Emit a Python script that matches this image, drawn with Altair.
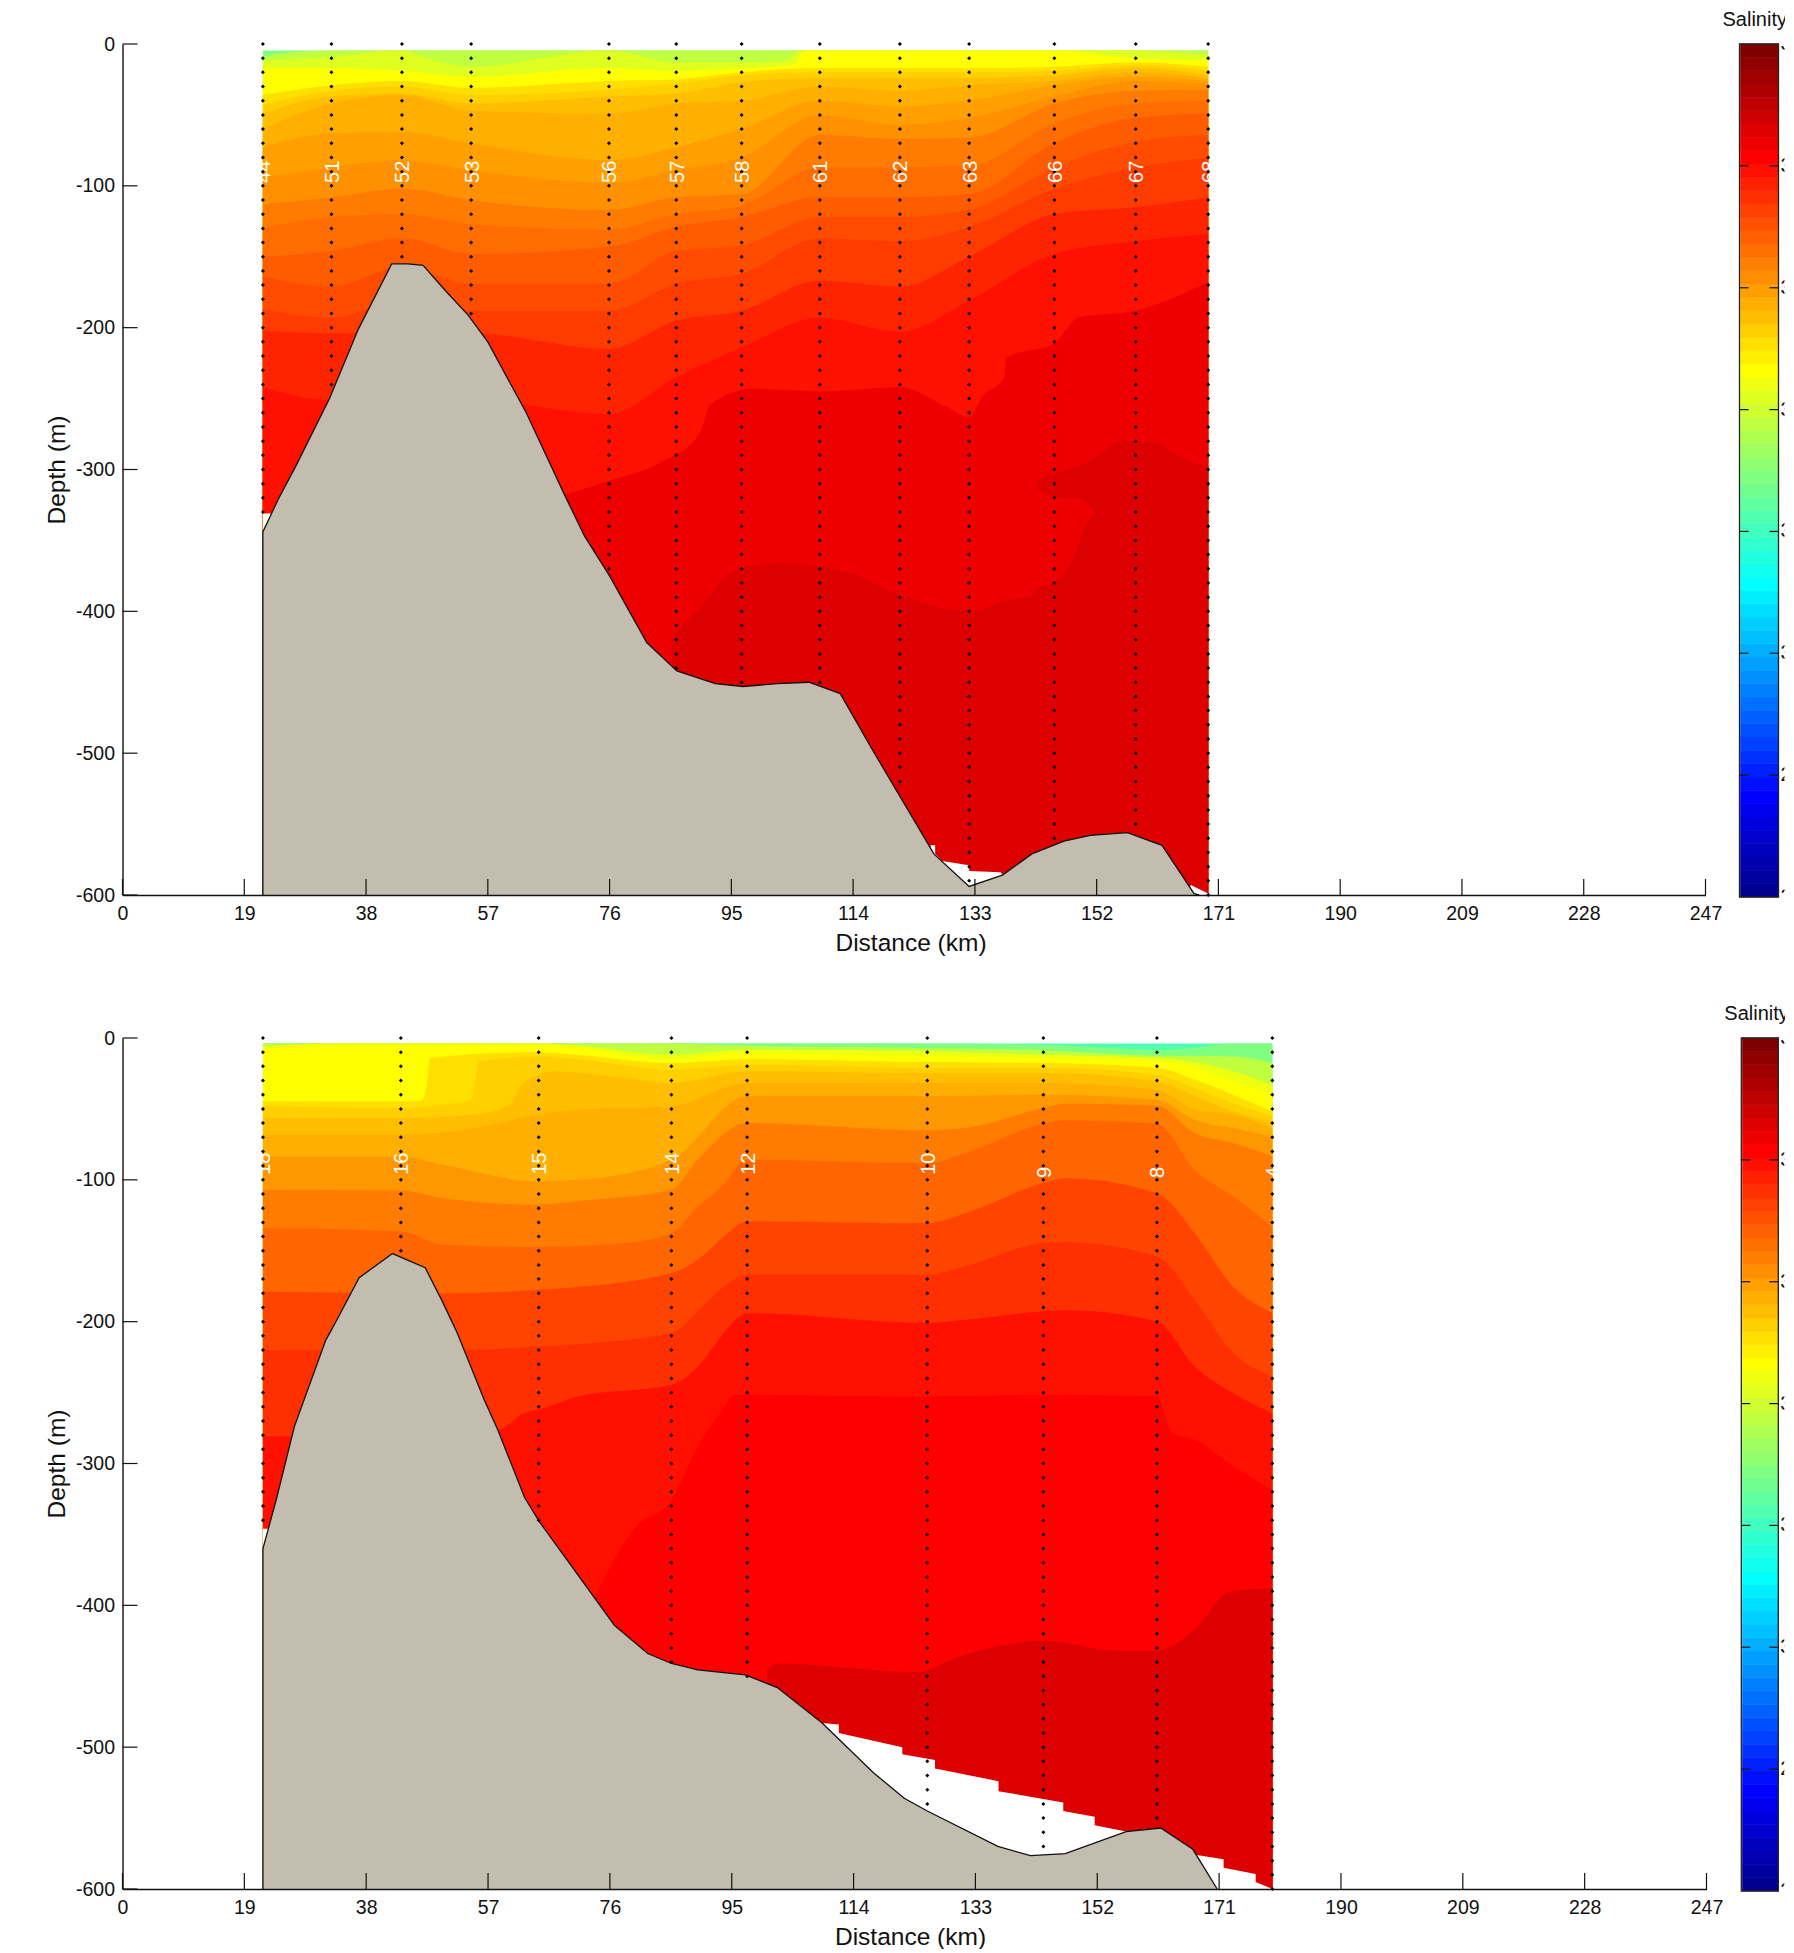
import altair as alt
import pandas as pd

FONT = "Liberation Sans"
X_TICKS = [0, 19, 38, 57, 76, 95, 114, 133, 152, 171, 190, 209, 228, 247]
Y_TICKS = [0, -100, -200, -300, -400, -500, -600]
LEVELS = [0, 10, 20, 30, 40, 50, 60, 70, 80, 90, 100, 110, 120, 130, 140, 150, 160, 170, 180, 190,
          200, 210, 220, 230, 240, 250, 260, 270, 280, 290, 300, 310, 320, 330, 340, 350, 360, 370, 380, 390,
          400, 410, 420, 430, 440, 450, 460, 470, 480, 490, 500, 510, 520, 530, 540, 550, 560, 570, 580, 590, 600]

JET = ["#00008F", "#00009F", "#0000AF", "#0000BF", "#0000CF", "#0000DF", "#0000EF", "#0000FF",
       "#0010FF", "#0020FF", "#0030FF", "#0040FF", "#0050FF", "#0060FF", "#0070FF", "#0080FF",
       "#008FFF", "#009FFF", "#00AFFF", "#00BFFF", "#00CFFF", "#00DFFF", "#00EFFF", "#00FFFF",
       "#10FFEF", "#20FFDF", "#30FFCF", "#40FFBF", "#50FFAF", "#60FF9F", "#70FF8F", "#80FF80",
       "#8FFF70", "#9FFF60", "#AFFF50", "#BFFF40", "#CFFF30", "#DFFF20", "#EFFF10", "#FFFF00",
       "#FFEF00", "#FFDF00", "#FFCF00", "#FFBF00", "#FFAF00", "#FF9F00", "#FF8F00", "#FF8000",
       "#FF7000", "#FF6000", "#FF5000", "#FF4000", "#FF3000", "#FF2000", "#FF1000", "#FF0000",
       "#EF0000", "#DF0000", "#CF0000", "#BF0000", "#AF0000", "#9F0000", "#8F0000", "#800000"]
CB_POS = [0, 9.14, 18.29, 27.43, 36.57, 45.71, 54.86, 64]
CB_LABELS = ["2", "2", "3", "3", "3", "3", "3", "3"]

# ---------- upper section ----------
P1_KM = [21.9, 32.6, 43.6, 54.4, 75.9, 86.4, 96.6, 108.8, 121.3, 132.1, 145.4, 158.1, 169.4]
P1_NAMES = ["44", "51", "52", "53", "56", "57", "58", "61", "62", "63", "66", "67", "68"]
P1_LAST = [330, 240, 150, 190, 370, 440, 450, 450, 520, 590, 560, 550, 600]
P1_BOT_KM = [21.9, 24.3, 27, 32.3, 36.8, 42, 44.5, 46.9, 50.4, 53.9, 57, 63, 69.2, 72.1, 76, 81.8, 86.5, 92.5,
             96.8, 102.2, 107.1, 112, 116.8, 126.6, 132.1, 137.3, 141.9, 146.9, 151, 156.8, 162.2, 167.2, 168]
P1_BOT = [344, 321, 298, 250, 201, 155, 155, 156, 174, 191, 210, 260, 320, 347, 375, 422, 442, 451,
          453, 451, 450, 458, 496, 571, 594, 586, 571, 562, 558, 556, 565, 599, 600]
P1_GAP_KM = [21.9, 23.5, 24, 126, 126.1, 126.8, 126.8, 127.9, 132.1, 132.1, 137, 137.5, 138, 166, 166.7, 169.4]
P1_GAP = [331, 331, 600, 600, 565, 565, 571, 576, 579, 583, 584, 587, 600, 600, 593, 599]

P1_GREEN = [4.5, 4.5]
P1_GREEN_KM = [21.9, 169.4]
P1_LIME_KM = [21.9, 26, 32.6, 169.4]
P1_LIME = [9, 6, 4.5, 4.5]
P1_CHART_KM = [21.9, 32.6, 43.6, 48, 54.4, 75.9, 86.4, 96.6, 103, 106, 158.1, 169.4]
P1_CHART = [12, 9, 4.5, 11, 16, 4.5, 13, 13, 12, 4.5, 4.5, 8]
P1_YEL_KM = [21.9, 32.6, 43.6, 54.4, 75.9, 86.4, 96.6, 104.5, 106.5, 121.3, 145.4, 158.1, 169.4]
P1_YEL = [17, 17, 19, 23, 17, 19, 17, 15, 4.5, 4.5, 4.5, 10, 11.5]
P1_FFDF = [36, 29, 26, 31, 26, 25, 20, 17, 17, 17, 16, 13, 16]
P1_FFCF = [43, 33, 30, 36, 32, 28, 22, 20, 20, 20, 19, 15, 19]
P1_FFBF = [49, 37, 35, 42, 37, 35, 27, 24, 24, 24, 22, 17, 22]
P1_FFAF = [60, 42, 36, 47, 49, 42, 40, 30, 33, 29, 26, 20, 24]
P1_FF9F = [73, 63, 62, 70, 82, 73, 60, 40, 44, 40, 29, 23, 26]
P1_FF90 = [94, 87, 82, 89, 98, 89, 80, 50, 57, 52, 37, 26, 28]
P1_FF7C = [113, 108, 102, 110, 117, 108, 106, 64, 67, 66, 42, 33, 32]
P1_FF6C = [130, 122, 120, 127, 131, 120, 114, 87, 87, 86, 56, 42, 40]
P1_FF5C = [150, 146, 137, 148, 143, 129, 122, 108, 108, 106, 70, 52, 49]
P1_FF4C = [164, 171, 157, 169, 169, 146, 142, 122, 122, 117, 87, 69, 64]
P1_FF3C = [187, 193, 181, 188, 188, 169, 162, 137, 139, 129, 102, 87, 80]
P1_FF24 = [202, 204, 204, 204, 215, 195, 188, 167, 171, 150, 120, 115, 108]
P1_FF10 = [242, 251, 251, 251, 261, 235, 214, 193, 203, 181, 148, 139, 134]
P1_EE_KM = [69, 75.9, 84, 90, 91.8, 98.3, 108.8, 121.3, 128.2, 132.1, 134.1, 137.6, 137.9, 145.4, 147.2, 149, 158.1, 169.4]
P1_EE = [318, 308, 295, 275, 254, 243, 245, 242, 255, 263, 249, 235, 221, 211, 202, 193, 188, 168]
P1_DD_KM = [85.7, 89.6, 95.4, 102.2, 112.9, 121.5, 132.1, 133.6, 137.3, 142, 142.6, 142.65, 147.2, 151.3, 156, 161.7, 164.6, 169.4]
P1_DD = [417, 400, 372, 366, 372, 389, 400, 399, 393, 389, 384, 309.5, 300.6, 293.5, 279.5, 281.8, 290, 298.3]
P1_LOBE_KM = [142.65, 143, 145.3, 146.9, 148.2, 149.2, 150.3, 151.8]
P1_LOBE_TOP = [312, 314.7, 318.3, 319.7, 320, 320.6, 323, 330.7]
P1_LOBE_BOT = [384, 383, 380.5, 373.5, 364, 352, 339.5, 331]

# ---------- lower section ----------
P2_KM = [21.9, 43.4, 64.9, 85.6, 97.4, 125.5, 143.6, 161.3, 179.3]
P2_NAMES = ["18", "16", "15", "14", "12", "10", "9", "8", "4"]
P2_LAST = [340, 150, 340, 440, 450, 540, 570, 550, 600]
P2_BOT_KM = [21.9, 24, 26.8, 31.7, 33.4, 36.9, 42.1, 47.2, 49.8, 52.2, 56.4, 58.5, 62.7, 65, 76.7, 81.9, 85.6, 89.7,
             97.1, 102.1, 109.1, 117.1, 121.9, 125.5, 136.5, 141.6, 147, 156.5, 161.9, 166.9, 170.7]
P2_BOT = [360, 325, 274, 213, 199, 169, 152, 162, 185, 208, 255, 276, 324, 341, 414, 434, 441, 445.5,
          449, 458, 483, 518, 536, 545, 570, 576.5, 575, 559.5, 557, 572, 600]
P2_GAP_KM = [21.9, 23.3, 23.8, 109, 109.1, 111.7, 111.7, 121.6, 121.6, 126.7, 126.7, 136.6, 136.6, 146.7, 146.7,
             151.6, 151.6, 156.5, 157, 167, 167.5, 171.7, 171.7, 176.7, 176.7, 179.3]
P2_GAP = [346, 346, 600, 600, 483, 484, 490, 500, 505, 509, 515, 524, 531, 539, 545,
          549, 555, 559.5, 600, 600, 576, 579, 585, 589.5, 595, 600]

P2_SEA_KM = [21.9, 179.3]
P2_SEA = [3.8, 3.8]
P2_GR_KM = [21.9, 110, 125, 143.6, 150, 161.3, 167, 173, 179.3]
P2_GR = [3.8, 3.8, 3.8, 4.7, 6, 8.3, 7, 3.8, 3.8]
P2_LIME_KM = [21.9, 66, 85.6, 97.4, 125.5, 143.6, 161.3, 173.2, 179.3]
P2_LIME = [3.8, 3.8, 3.8, 5.4, 7, 8.7, 12.5, 13, 17.7]
P2_CHART_KM = [21.9, 32, 66, 85.6, 97.4, 125.5, 143.6, 161.3, 173.2, 179.3]
P2_CHART = [6, 3.8, 3.8, 11.8, 8.3, 9.4, 11.8, 14, 23.5, 33]
P2_YEL_KM = [21.9, 32, 64.9, 71, 85.6, 97.4, 125.5, 143.6, 161.3, 167.2, 173.2, 179.3]
P2_YEL = [8.3, 4.7, 4.7, 7, 15.3, 10.6, 13, 14, 16.5, 21, 30.6, 40]
P2_FFDF_KM = [21.9, 43.4, 46.6, 47.4, 48, 64.9, 71, 85.6, 97.4, 125.5, 143.6, 161.3, 167.2, 173.2, 179.3]
P2_FFDF = [44.7, 44.7, 44, 34, 14, 10, 12, 17.7, 15, 17, 17.7, 21, 29.4, 40, 51.8]
P2_FFCF_KM = [21.9, 43.4, 50, 54.5, 55.6, 64.9, 71, 85.6, 97.4, 125.5, 143.6, 161.3, 167.2, 173.2, 179.3]
P2_FFCF = [48, 49.4, 47, 43.5, 16.5, 13, 15, 22.4, 19, 21, 21, 26, 35.3, 46, 55]
P2_FFBF_KM = [21.9, 43.4, 55, 60.6, 62.3, 64.9, 66.8, 78, 85.6, 97.4, 125.5, 143.6, 161.3, 167.2, 173.2, 179.3]
P2_FFBF = [56.5, 56.5, 54, 46, 33, 26, 23.5, 28, 31.8, 23.5, 24.7, 24.7, 30.6, 41, 51.8, 58.8]
P2_FFAF_KM = [21.9, 43.4, 55, 64.9, 71, 85.6, 97.4, 125.5, 143.6, 161.3, 167.2, 173.2, 179.3]
P2_FFAF = [68.2, 68.2, 63.5, 54, 50.6, 48.2, 31.8, 31.8, 31.8, 36.5, 50.6, 54, 63.5]
P2_FF9F_KM = [21.9, 43.4, 50, 64.9, 71, 85.6, 97.4, 125.5, 143.6, 161.3, 167.2, 173.2, 179.3]
P2_FF9F = [83.5, 83.5, 89.4, 101, 100, 85.8, 41, 41, 40, 43.5, 57.6, 63.5, 69.4]
P2_FF7C_KM = [21.9, 43.4, 50.1, 64.9, 71, 85.6, 89.7, 97.4, 125.5, 131.4, 143.6, 147, 161.3, 167.2, 173.2, 179.3]
P2_FF7C = [107, 107.5, 113, 117.6, 115, 107, 85.8, 60, 65, 63.5, 49.4, 46.4, 47.8, 67, 74, 83.5]
P2_FF6C_KM = [21.9, 43.4, 50.1, 64.9, 78, 85.6, 89.7, 93.2, 97.4, 125.5, 131.4, 143.6, 147, 161.3, 167.2, 173.2, 179.3]
P2_FF6C = [134, 136.4, 145.8, 147.4, 144.6, 137.6, 118.8, 105.8, 85.8, 88.2, 81, 60.5, 58, 60.5, 93, 111.7, 132.9]
P2_FF44_KM = [21.9, 50.1, 64.9, 85.6, 89.7, 93.2, 97.4, 125.5, 131.4, 143.6, 147, 161.3, 167.2, 173.2, 179.3]
P2_FF44 = [178.7, 180, 177.5, 165.8, 156.4, 142.3, 129.3, 130.5, 123.5, 102.3, 98.8, 109.4, 137.6, 175.2, 194]
P2_FF30_KM = [21.9, 52.2, 64.9, 85.6, 89.7, 93.2, 97.4, 125.5, 131.4, 143.6, 147, 161.3, 167.2, 173.2, 179.3]
P2_FF30 = [219.9, 219.9, 217.5, 208, 192.8, 177.5, 167, 167, 161, 144.6, 144, 154, 184.6, 222, 238.7]
P2_FF10_KM = [21.9, 58.5, 62.6, 64.9, 71, 85.6, 89.7, 92, 95.6, 97.4, 125.5, 131.4, 143.6, 147, 161.3, 167.2, 173.2, 179.3]
P2_FF10 = [281, 276.3, 264.5, 262, 252.8, 244.5, 231.6, 218.7, 198.7, 194, 201, 198.7, 192.8, 192, 199.9, 231.6, 250.4, 264.5]
P2_FF00_KM = [73, 80, 85.6, 89.7, 93.2, 95.6, 97.4, 125.5, 143.6, 161.3, 163.7, 167.2, 173.2, 179.3]
P2_FF00 = [400, 345, 325.7, 288, 264.5, 251.6, 251.6, 252.8, 251.6, 252.8, 278.6, 283.3, 302, 318.6]
P2_DD_KM = [100.5, 102, 124.3, 129.3, 134.4, 143.7, 155.3, 161.2, 167, 172.8, 179.3]
P2_DD = [445, 441, 447, 438, 431, 425, 432, 432, 418, 390, 388]

P1_BANDS = [("#80FF80", P1_GREEN_KM, P1_GREEN), ("#BFFF40", P1_LIME_KM, P1_LIME), ("#DFFF20", P1_CHART_KM, P1_CHART),
            ("#FFFF00", P1_YEL_KM, P1_YEL), ("#FFDF00", P1_KM, P1_FFDF), ("#FFCF00", P1_KM, P1_FFCF),
            ("#FFBF00", P1_KM, P1_FFBF), ("#FFAF00", P1_KM, P1_FFAF), ("#FF9F00", P1_KM, P1_FF9F),
            ("#FF9000", P1_KM, P1_FF90), ("#FF7C00", P1_KM, P1_FF7C), ("#FF6C00", P1_KM, P1_FF6C),
            ("#FF5C00", P1_KM, P1_FF5C), ("#FF4C00", P1_KM, P1_FF4C), ("#FF3C00", P1_KM, P1_FF3C),
            ("#FF2400", P1_KM, P1_FF24), ("#FF1000", P1_KM, P1_FF10), ("#EE0000", P1_EE_KM, P1_EE),
            ("#DD0000", P1_DD_KM, P1_DD)]
P2_BANDS = [("#50FFAF", P2_SEA_KM, P2_SEA), ("#80FF80", P2_GR_KM, P2_GR), ("#BFFF40", P2_LIME_KM, P2_LIME),
            ("#EFFF10", P2_CHART_KM, P2_CHART), ("#FFFF00", P2_YEL_KM, P2_YEL), ("#FFDF00", P2_FFDF_KM, P2_FFDF),
            ("#FFCF00", P2_FFCF_KM, P2_FFCF), ("#FFBF00", P2_FFBF_KM, P2_FFBF), ("#FFAF00", P2_FFAF_KM, P2_FFAF),
            ("#FF9800", P2_FF9F_KM, P2_FF9F), ("#FF7C00", P2_FF7C_KM, P2_FF7C), ("#FF6600", P2_FF6C_KM, P2_FF6C),
            ("#FF4400", P2_FF44_KM, P2_FF44), ("#FF3000", P2_FF30_KM, P2_FF30), ("#FF1000", P2_FF10_KM, P2_FF10),
            ("#FF0000", P2_FF00_KM, P2_FF00), ("#DD0000", P2_DD_KM, P2_DD)]

XS = alt.Scale(domain=[0, 247], nice=False, zero=False)
YS = alt.Scale(domain=[-600, 0], nice=False, zero=False)
W, H = 1583, 851
CB_H = 853
AX = dict(labelFont=FONT, labelFontSize=19.5, labelColor="#111", titleFont=FONT, titleFontSize=24.5,
          titleColor="#111", titleFontWeight="normal", ticks=False, grid=False, domainColor="#111",
          domainWidth=1.4, zindex=2)


def panel(bands, gap_km, gap, bot_km, bot, st_km, names, last, label_y, title_dx, w, ytp, lobe=None):
    ax_x = alt.Axis(values=X_TICKS, title="Distance (km)", labelPadding=9, titlePadding=9,
                    titleX=w / 2 + title_dx, labelFlush=False, **AX)
    ax_y = alt.Axis(values=Y_TICKS, title="Depth (m)", labelPadding=8, titlePadding=ytp,
                    labelExpr="toString(datum.value)", labelFlush=False, **AX)
    ex = alt.X("km:Q", scale=XS, axis=ax_x)
    ey = alt.Y("y:Q", scale=YS, axis=ax_y)

    def prof(kms, depths):
        return pd.DataFrame({"km": kms, "y": [-d for d in depths], "i": range(len(kms))})

    def area(color, kms, depths, interp="monotone"):
        return alt.Chart(prof(kms, depths)).mark_area(color=color, interpolate=interp, opacity=1).encode(
            x=ex, y=ey, y2=alt.datum(-600))

    layers = [area(*b) for b in bands]
    if lobe:
        ldf = pd.DataFrame({"km": lobe[0], "y": [-d for d in lobe[1]], "b": [-d for d in lobe[2]]})
        layers.append(alt.Chart(ldf).mark_area(color="#EE0000", interpolate="monotone", opacity=1).encode(
            x=ex, y=ey, y2="b:Q"))
    layers.append(area("#FFFFFF", gap_km, gap, "linear"))
    layers.append(area("#C3BDAF", bot_km, bot, "linear"))
    line_df = prof([bot_km[0]] + bot_km, [600] + bot)
    layers.append(alt.Chart(line_df).mark_line(color="#111", strokeWidth=1.3).encode(x=ex, y=ey, order="i:Q"))
    dots = pd.DataFrame([{"km": k, "y": -d} for k, m in zip(st_km, last) for d in LEVELS if d <= m])
    layers.append(alt.Chart(dots).mark_point(shape="diamond", filled=True, size=16, color="#000", opacity=1).encode(
        x=ex, y=ey))
    labs = pd.DataFrame({"km": st_km, "t": names, "y": label_y})
    layers.append(alt.Chart(labs).mark_text(color="#FFFFFF", font=FONT, fontSize=20, angle=270, align="left",
                                            baseline="middle", dy=1.5).encode(x=ex, y=ey, text="t:N"))
    layers.append(alt.Chart(pd.DataFrame({"km": X_TICKS})).mark_rule(color="#111", strokeWidth=1.2).encode(
        x=ex, y=alt.value(H), y2=alt.value(H - 16)))
    layers.append(alt.Chart(pd.DataFrame({"y": Y_TICKS})).mark_rule(color="#111", strokeWidth=1.2).encode(
        y=ey, x=alt.value(0), x2=alt.value(15)))
    return alt.layer(*layers).properties(width=w, height=H)


def colorbar(bar_w, panel_w):
    cy = alt.Scale(domain=[0, 64], nice=False, zero=False)
    stripes = pd.DataFrame({"c": JET, "a": range(64), "b": range(1, 65)})
    rects = alt.Chart(stripes).mark_rect(strokeWidth=0.6).encode(
        x=alt.value(1), x2=alt.value(bar_w),
        y=alt.Y("a:Q", scale=cy, axis=None), y2="b:Q",
        color=alt.Color("c:N", scale=None), stroke=alt.Stroke("c:N", scale=None))
    frame = alt.Chart(pd.DataFrame({"k": [0]})).mark_rect(fillOpacity=0, stroke="#222", strokeWidth=1.3).encode(
        x=alt.value(0), x2=alt.value(bar_w), y=alt.value(0), y2=alt.value(CB_H))
    tick_df = pd.DataFrame({"p": CB_POS[1:-1]})
    t1 = alt.Chart(tick_df).mark_rule(color="#111", strokeWidth=1.2).encode(
        y=alt.Y("p:Q", scale=cy, axis=None), x=alt.value(0), x2=alt.value(9))
    t2 = alt.Chart(tick_df).mark_rule(color="#111", strokeWidth=1.2).encode(
        y=alt.Y("p:Q", scale=cy, axis=None), x=alt.value(bar_w - 9), x2=alt.value(bar_w))
    lab = alt.Chart(pd.DataFrame({"p": CB_POS, "t": CB_LABELS})).mark_text(
        font=FONT, fontSize=20, color="#111", align="left", baseline="middle", clip=True).encode(
        y=alt.Y("p:Q", scale=cy, axis=None), x=alt.value(bar_w + 2), text="t:N")
    head = alt.Chart(pd.DataFrame({"t": ["Salinity"]})).mark_text(
        font=FONT, fontSize=20, color="#111", align="left", baseline="middle").encode(
        x=alt.value(-17), y=alt.value(-24), text="t:N")
    return alt.layer(rects, frame, t1, t2, lab, head).properties(width=panel_w, height=CB_H)


P1_LABEL_Y = [-98] * len(P1_KM)
P2_LABEL_Y = [-96.5, -96.5, -96.5, -96.5, -96.5, -96.5, -98.7, -98.7, -98.7]

top = panel(P1_BANDS, P1_GAP_KM, P1_GAP, P1_BOT_KM, P1_BOT, P1_KM, P1_NAMES, P1_LAST, P1_LABEL_Y, -3.5, W, 6,
            lobe=(P1_LOBE_KM, P1_LOBE_TOP, P1_LOBE_BOT))
low = panel(P2_BANDS, P2_GAP_KM, P2_GAP, P2_BOT_KM, P2_BOT, P2_KM, P2_NAMES, P2_LAST, P2_LABEL_Y, -4.5, W + 1, 6)

row1 = alt.hconcat(top, colorbar(39, 45), spacing=0)
row2 = alt.hconcat(low, colorbar(37, 43), spacing=0.8)

chart = alt.vconcat(row1, row2, spacing=49).properties(
    padding={"left": 35.5, "top": 2, "right": -5, "bottom": 0}
).configure_view(stroke=None)

chart.save("out.html", embed_options={"renderer": "svg", "actions": False})
